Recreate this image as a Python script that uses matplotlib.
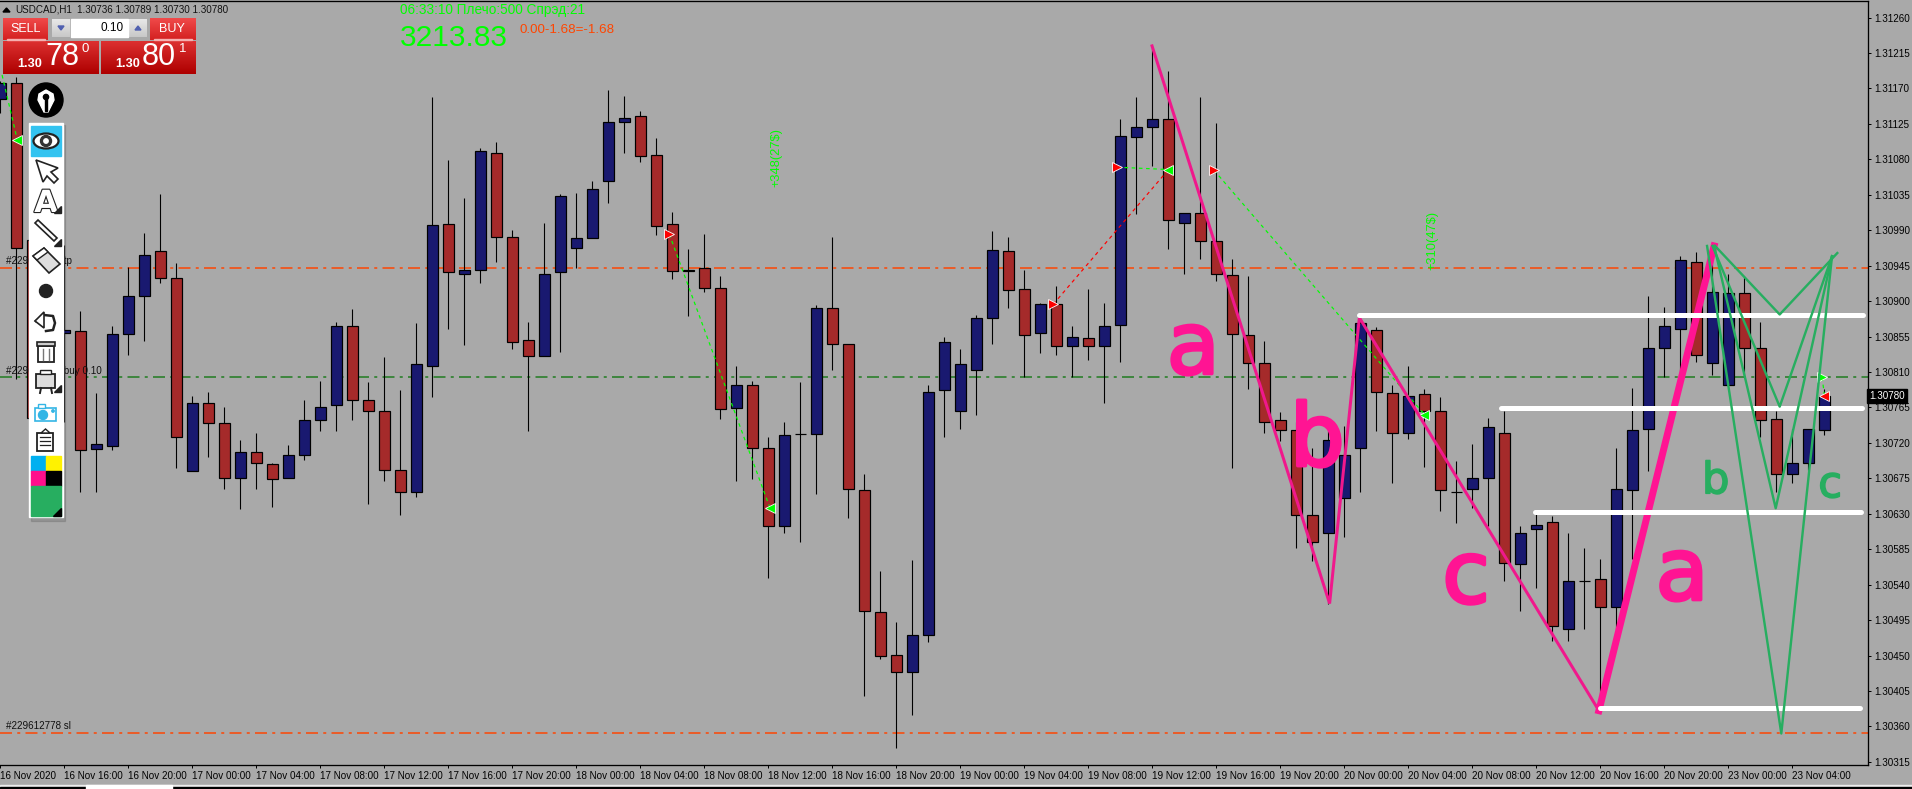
import numpy as np
import matplotlib
matplotlib.use('Agg')
import matplotlib.pyplot as plt
import matplotlib.patheffects as pe
from matplotlib.colors import LinearSegmentedColormap
from matplotlib.patches import Rectangle, Ellipse, Polygon, Circle

# candles in 1e-5 price points, hourly bars
opens = [131156, 131177, 130977, 130755, 130859, 130862, 130712, 130716, 130858, 130906,
         130963, 130929, 130684, 130770, 130745, 130676, 130708, 130693, 130675, 130704,
         130749, 130768, 130869, 130775, 130761, 130685, 130658, 130817, 130998, 130934,
         130939, 131088, 130982, 130850, 130830, 130937, 130967, 130980, 131053, 131128,
         131135, 131086, 130998, 130939, 130942, 130916, 130764, 130793, 130713, 130615,
         130731, 130731, 130891, 130845, 130660, 130505, 130451, 130429, 130476, 130787,
         130760, 130812, 130879, 130963, 130915, 130860, 130896, 130843, 130853, 130843,
         130870, 131108, 131121, 131131, 130999, 131012, 130976, 130933, 130857, 130822,
         130749, 130736, 130629, 130605, 130650, 130713, 130863, 130783, 130732, 130782,
         130761, 130657, 130662, 130676, 130732, 130566, 130610, 130619, 130484, 130545,
         130547, 130511, 130660, 130737, 130841, 130865, 130950, 130821, 130794, 130910,
         130840, 130750, 130681, 130695, 130736]
highs = [131180, 131185, 130990, 130901, 130971, 130887, 130783, 130868, 130943, 130986,
         131036, 130948, 130780, 130784, 130765, 130723, 130733, 130694, 130717, 130775,
         130798, 130874, 130890, 130797, 130829, 130787, 130872, 131159, 131079, 131031,
         131094, 131102, 130990, 130873, 130999, 131036, 131037, 131053, 131168, 131161,
         131141, 131107, 131013, 130966, 130985, 130932, 130817, 130798, 130728, 130746,
         130797, 130895, 130982, 130845, 130681, 130557, 130493, 130571, 130793, 130854,
         130839, 130882, 130989, 130982, 130940, 130898, 130919, 130869, 130915, 130897,
         131131, 131159, 131224, 131192, 131012, 131159, 131126, 130954, 130932, 130849,
         130759, 130746, 130713, 130742, 130742, 130878, 130867, 130793, 130817, 130789,
         130778, 130697, 130718, 130751, 130761, 130615, 130632, 130627, 130606, 130587,
         130573, 130713, 130790, 130906, 130893, 130957, 130962, 130970, 130934, 130932,
         130873, 130761, 130737, 130737, 130789]
lows = [131139, 130801, 130742, 130704, 130747, 130657, 130658, 130711, 130832, 130849,
        130923, 130688, 130684, 130702, 130661, 130636, 130661, 130639, 130675, 130698,
        130735, 130735, 130749, 130642, 130671, 130628, 130651, 130778, 130864, 130844,
        130923, 130950, 130839, 130735, 130830, 130835, 130942, 130980, 131025, 131088,
        131077, 130984, 130928, 130881, 130911, 130750, 130672, 130674, 130549, 130605,
        130594, 130655, 130812, 130625, 130398, 130445, 130333, 130375, 130467, 130727,
        130737, 130755, 130846, 130891, 130803, 130834, 130831, 130803, 130825, 130771,
        130823, 131010, 131071, 130966, 130935, 130953, 130926, 130688, 130788, 130733,
        130722, 130586, 130570, 130516, 130600, 130657, 130735, 130669, 130725, 130689,
        130634, 130618, 130637, 130615, 130545, 130506, 130536, 130468, 130469, 130484,
        130380, 130484, 130572, 130684, 130804, 130808, 130823, 130806, 130794, 130803,
        130727, 130657, 130669, 130685, 130730]
closes = [131177, 130967, 130751, 130863, 130863, 130711, 130718, 130858, 130906, 130958,
          130929, 130727, 130770, 130745, 130676, 130708, 130695, 130674, 130705, 130749,
          130766, 130868, 130775, 130761, 130685, 130657, 130820, 130996, 130937, 130940,
          131090, 130981, 130848, 130830, 130934, 131034, 130980, 131042, 131128, 131133,
          131084, 130995, 130938, 130938, 130916, 130763, 130794, 130714, 130615, 130730,
          130731, 130891, 130845, 130662, 130506, 130450, 130429, 130476, 130785, 130848,
          130820, 130879, 130965, 130914, 130857, 130896, 130843, 130854, 130843, 130869,
          131109, 131121, 131131, 131003, 131012, 130976, 130934, 130858, 130821, 130747,
          130736, 130629, 130594, 130723, 130704, 130872, 130784, 130732, 130780, 130761,
          130660, 130657, 130676, 130740, 130567, 130605, 130616, 130487, 130545, 130545,
          130511, 130661, 130736, 130840, 130868, 130952, 130831, 130912, 130910, 130840,
          130749, 130681, 130695, 130737, 130780]

time_labels = ['16 Nov 2020', '16 Nov 16:00', '16 Nov 20:00',
               '17 Nov 00:00', '17 Nov 04:00', '17 Nov 08:00', '17 Nov 12:00', '17 Nov 16:00', '17 Nov 20:00',
               '18 Nov 00:00', '18 Nov 04:00', '18 Nov 08:00', '18 Nov 12:00', '18 Nov 16:00', '18 Nov 20:00',
               '19 Nov 00:00', '19 Nov 04:00', '19 Nov 08:00', '19 Nov 12:00', '19 Nov 16:00', '19 Nov 20:00',
               '20 Nov 00:00', '20 Nov 04:00', '20 Nov 08:00', '20 Nov 12:00', '20 Nov 16:00', '20 Nov 20:00',
               '23 Nov 00:00', '23 Nov 04:00']
price_ticks = [131260, 131215, 131170, 131125, 131080, 131035, 130990, 130945, 130900, 130855, 130810,
               130765, 130720, 130675, 130630, 130585, 130540, 130495, 130450, 130405, 130360, 130315]

# order levels
tp_level = 130942
buy_level = 130803
sl_level = 130352

# closed trades: (bar, price) entry and exit
green_trades = [((0.1, 131187), (1.06, 131104)), ((41.8, 130985), (48.1, 130637)),
                ((69.8, 131070), (73.0, 131067)), ((75.85, 131066), (89.0, 130756)),
                ((113.85, 130803), (114.0, 130780))]
red_trades = [((65.8, 130896), (73.0, 131067))]

# hand drawn wave lines
pink_thin_x = [71.97, 83.07, 84.93, 99.9]
pink_thin_y = [131224, 130516, 130879, 130380]
pink_thick_x = [99.9, 107.1]
pink_thick_y = [130380, 130970]
white_starts = [84.93, 93.8, 95.9, 100.0]
white_ends = [116.4, 116.35, 116.3, 116.2]
white_prices = [130882, 130764, 130632, 130384]
green_starts = [107.16, 107.0, 107.1, 106.66]
green_mid_x = [111.2, 111.2, 110.95, 111.3]
green_mid_y = [130883, 130766, 130637, 130351]
green_end_x = [114.8, 114.47, 114.47, 114.47]
green_end_y = [130961, 130957, 130957, 130957]
peak_price = 130970

W, H = 1912, 789
BG = '#A9A9A9'
UP = '#191970'
DOWN = '#A52A2A'
PINK = '#FF1493'
GREEN = '#27AE60'
LIME = '#00FF00'
ORANGE = '#FF4500'
PX = 0.72  # one pixel in points at dpi 100

fig = plt.figure(figsize=(W / 100, H / 100), dpi=100, facecolor=BG)
ax = fig.add_axes([0, 24 / H, 1867.7 / W, 764 / H], facecolor=BG)

o = np.array(opens) / 1e5
h = np.array(highs) / 1e5
l = np.array(lows) / 1e5
c = np.array(closes) / 1e5
bars = np.arange(len(o))

ax.vlines(bars, l, h, color='black', linewidth=PX * 1.1, zorder=2)
body_colors = [UP if cl >= op else DOWN for op, cl in zip(o, c)]
ax.bar(bars, np.abs(c - o), bottom=np.minimum(o, c), width=0.66, color=body_colors,
       edgecolor='black', linewidth=PX * 1.2, zorder=3)

ax.set_xlim(-0.03, 116.7)
ax.set_ylim(1.30311, 1.31281)

ax.spines['left'].set_visible(False)
for spine in ['top', 'bottom', 'right']:
    ax.spines[spine].set_linewidth(PX * 1.3)

ax.set_xticks(np.arange(0, len(time_labels) * 4, 4))
ax.set_xticklabels(time_labels, ha='left', family='Liberation Sans', fontsize=7.1)
ax.yaxis.tick_right()
ax.set_yticks(np.array(price_ticks) / 1e5)
ax.set_yticklabels(['%.5f' % (p / 1e5) for p in price_ticks], family='Liberation Sans', fontsize=7.1)
ax.tick_params(axis='x', length=2.5, width=PX, pad=1.5)
ax.tick_params(axis='y', length=2.5, width=PX, pad=2.5)

# order lines
for level, col, label in [(tp_level, ORANGE, '#229612778 tp'),
                          (buy_level, '#1E7B1E', '#229612778 buy 0.10'),
                          (sl_level, ORANGE, '#229612778 sl')]:
    ax.axhline(level / 1e5, color=col, linewidth=PX * 1.5, dashes=(8, 3.5, 2, 3.5), zorder=1.5)
    ax.text(0.35, level / 1e5 + 0.00002, label, family='Liberation Sans', fontsize=7.1, color='#111111',
            va='bottom', ha='left', zorder=4)

# trade arrows
for trades, col in [(green_trades, LIME), (red_trades, 'red')]:
    for (x0, y0), (x1, y1) in trades:
        ax.plot([x0, x1], [y0 / 1e5, y1 / 1e5], color=col, linewidth=PX * 1.2, dashes=(3, 3), zorder=4)
entry_x = [t[0][0] for t in green_trades[1:4]] + [red_trades[0][0][0]]
entry_y = [t[0][1] / 1e5 for t in green_trades[1:4]] + [red_trades[0][0][1] / 1e5]
exit_x = [t[1][0] for t in green_trades[:4]]
exit_y = [t[1][1] / 1e5 for t in green_trades[:4]]
mark = dict(markeredgecolor='white', markeredgewidth=0.6, markersize=7, zorder=5, linestyle='none')
ax.plot(entry_x, entry_y, '>', color='red', **mark)
ax.plot(exit_x, exit_y, '<', color=LIME, **mark)
ax.plot([113.85], [buy_level / 1e5], '>', color=LIME, **mark)
ax.plot([114.0], [c[-1]], '<', color='red', **mark)

ax.text(48.5, 1.31082, '+348(27$)', rotation=90, color=LIME, family='Liberation Sans', fontsize=9.3,
        ha='center', va='center', zorder=5)
ax.text(89.5, 1.30977, '+310(47$)', rotation=90, color=LIME, family='Liberation Sans', fontsize=9.3,
        ha='center', va='center', zorder=5)

# wave drawing
for bx, by, letter in [(74.55, 130808, 'a'), (82.3, 130691, 'b'), (91.6, 130517, 'c'), (105.1, 130521, 'a')]:
    ax.text(bx, by / 1e5, letter, color=PINK, fontsize=62, ha='center', va='baseline', zorder=6,
            path_effects=[pe.withStroke(linewidth=2.5, foreground=PINK)])
for bx, by, letter in [(107.2, 130656, 'b'), (114.35, 130651, 'c')]:
    ax.text(bx, by / 1e5, letter, color=GREEN, fontsize=31, ha='center', va='baseline', zorder=6,
            path_effects=[pe.withStroke(linewidth=1.2, foreground=GREEN)])

ax.plot(pink_thin_x, np.array(pink_thin_y) / 1e5, color='#F0188C', linewidth=PX * 3, zorder=7, solid_joinstyle='miter')
ax.plot(pink_thick_x, np.array(pink_thick_y) / 1e5, color=PINK, linewidth=PX * 7, zorder=7)
for x0, x1, p in zip(white_starts, white_ends, white_prices):
    ax.plot([x0, x1], [p / 1e5, p / 1e5], color='white', linewidth=PX * 5, solid_capstyle='round', zorder=8)
for i in range(4):
    ax.plot([green_starts[i], green_mid_x[i], green_end_x[i]],
            [peak_price / 1e5, green_mid_y[i] / 1e5, green_end_y[i] / 1e5],
            color=GREEN, linewidth=PX * 2.4, zorder=9)

# current price box on the axis
ax.text(1.001, c[-1], '%.5f' % c[-1], transform=ax.get_yaxis_transform(), color='white',
        family='Liberation Sans', fontsize=7.1, ha='left', va='center', zorder=10, clip_on=False,
        bbox=dict(facecolor='black', edgecolor='black', pad=1.5))

# terminal widgets, drawn in screen pixels on top of the chart
ui = fig.add_axes([0, 0, 1, 1], facecolor='none')
ui.set_xlim(0, W)
ui.set_ylim(H, 0)
ui.set_autoscale_on(False)
ui.axis('off')


def gradient(x0, y0, x1, y1, top, bottom, z=20):
    cmap = LinearSegmentedColormap.from_list('g', [top, bottom])
    ui.imshow(np.linspace(0, 1, 40).reshape(-1, 1), extent=[x0, x1, y1, y0], cmap=cmap,
              aspect='auto', zorder=z, interpolation='bilinear')


def ui_text(x, y, s, size, color='white', ha='left', va='center', family='Liberation Sans', **kw):
    ui.text(x, y, s, fontsize=size, color=color, ha=ha, va=va, family=family, zorder=25, **kw)


# header
ui.add_patch(Polygon([(3, 12), (10, 12), (6.5, 8)], closed=True, color='black', zorder=25))
ui_text(15, 9.5, 'USDCAD,H1', 7.1, color='#111111')
ui_text(77, 9.5, '1.30736 1.30789 1.30730 1.30780', 7.1, color='#111111')
ui_text(400, 10, '06:33:10 Плечо:500 Спрэд:21', 9.8, color=LIME)
ui_text(400, 38, '3213.83', 21.5, color=LIME)
ui_text(520, 29.5, '0.00-1.68=-1.68', 9.6, color=ORANGE)

# one click trading
gradient(3, 18, 48, 40, '#F04A4A', '#D42020')
gradient(150, 18, 196, 40, '#F04A4A', '#D42020')
gradient(3, 41, 99, 74, '#DC3030', '#AE0000')
gradient(101, 41, 196, 74, '#DC3030', '#AE0000')
ui.add_patch(Rectangle((7, 39), 38, 1, color='#F5B0B0', zorder=22))
ui.add_patch(Rectangle((154, 39), 38, 1, color='#F5B0B0', zorder=22))
gradient(52, 19, 70, 37, '#E8E8E8', '#C8C8C8')
gradient(129, 19, 147, 37, '#E8E8E8', '#C8C8C8')
ui.add_patch(Rectangle((71, 19), 57, 18, color='white', zorder=21))
ui.add_patch(Polygon([(58, 26), (64, 26), (61, 30)], closed=True, color='#5060B0', zorder=22))
ui.add_patch(Polygon([(135, 30), (141, 30), (138, 26)], closed=True, color='#5060B0', zorder=22))
ui_text(25.5, 29, 'SELL', 9, ha='center')
ui_text(172, 29, 'BUY', 9, ha='center')
ui_text(124, 27.5, '0.10', 8.5, color='black', ha='right')
ui_text(17, 64, '1.30', 9.2, fontweight='bold')
ui_text(45, 57, '78', 22)
ui_text(82, 49, '0', 9.5)
ui_text(115, 64, '1.30', 9.2, fontweight='bold')
ui_text(142, 57, '80', 22)
ui_text(179, 49, '1', 9.5)

# pen badge
ui.add_patch(Ellipse((46, 100), 34, 34, color='black', zorder=20))
ui.add_patch(Polygon([(46, 90), (39, 94), (38, 100), (44, 112), (48, 112), (54, 100), (53, 94)],
                     closed=True, color='white', zorder=21))
ui.add_patch(Circle((46, 97), 2.6, color='black', zorder=22))
ui.add_patch(Rectangle((45.3, 97), 1.4, 14, color='black', zorder=22))

# tool bar
ui.add_patch(Rectangle((31, 125), 34, 396, color='black', alpha=0.12, zorder=18))
ui.add_patch(Rectangle((29, 123), 34, 394, color='white', zorder=20))
ui.add_patch(Rectangle((31, 126), 30, 30, color='#33C3F0', zorder=21))
ui.add_patch(Ellipse((46, 141), 25, 15, facecolor='white', edgecolor='#222222', linewidth=1.6, zorder=22))
ui.add_patch(Circle((46, 141), 5.5, color='#333333', zorder=23))
ui.add_patch(Circle((46, 141), 2.2, color='white', zorder=24))
# arrow
ui.add_patch(Polygon([(36, 160), (58, 168), (51, 172), (58, 179), (54, 183), (47, 176), (43, 182)], closed=True,
                     facecolor='white', edgecolor='#222222', linewidth=1.2, zorder=22))
# text tool
ui.text(46, 212, 'A', fontsize=22, color='white', ha='center', va='baseline', zorder=22, family='DejaVu Sans',
        fontweight='bold', path_effects=[pe.withStroke(linewidth=1.6, foreground='#222222')])
ui.add_patch(Polygon([(61, 206), (61, 213), (54, 213)], closed=True, color='#222222', zorder=22))
# line tool
ui.add_patch(Polygon([(35, 223), (38, 220), (57, 238), (54, 241)], closed=True, facecolor='white',
                     edgecolor='#222222', linewidth=1.2, zorder=22))
ui.add_patch(Polygon([(61, 239), (61, 246), (54, 246)], closed=True, color='#222222', zorder=22))
# eraser
ui.add_patch(Polygon([(33, 256), (44, 248), (60, 264), (49, 273)], closed=True, facecolor='#DDDDDD',
                     edgecolor='#222222', linewidth=1.2, zorder=22))
ui.add_patch(Polygon([(33, 256), (44, 248), (48, 252), (37, 260)], closed=True, facecolor='white',
                     edgecolor='#222222', linewidth=1.0, zorder=23))
ui.add_patch(Circle((46, 291), 6.5, color='#222222', zorder=22))
# undo
ui.plot([36, 44, 53, 55, 53, 46], [321, 315, 316, 323, 330, 331], color='#222222', linewidth=1.8, zorder=22)
ui.add_patch(Polygon([(35, 321), (44, 312), (44, 328)], closed=True, facecolor='white', edgecolor='#222222',
                     linewidth=1.2, zorder=23))
# trash
ui.add_patch(Rectangle((38, 346), 16, 16, facecolor='white', edgecolor='#222222', linewidth=1.3, zorder=22))
ui.add_patch(Rectangle((37, 342), 18, 4, facecolor='#CCCCCC', edgecolor='#222222', linewidth=1.2, zorder=23))
ui.plot([43, 43], [349, 360], color='#777777', linewidth=1, zorder=23)
ui.plot([49, 49], [349, 360], color='#777777', linewidth=1, zorder=23)
# projector
ui.add_patch(Rectangle((36, 374), 19, 14, facecolor='#DDDDDD', edgecolor='#222222', linewidth=1.3, zorder=22))
ui.add_patch(Rectangle((40, 370), 11, 4, facecolor='white', edgecolor='#222222', linewidth=1.0, zorder=22))
ui.plot([41, 40], [388, 393], color='#222222', linewidth=1.4, zorder=22)
ui.plot([51, 52], [388, 393], color='#222222', linewidth=1.4, zorder=22)
ui.add_patch(Polygon([(61, 385), (61, 392), (54, 392)], closed=True, color='#222222', zorder=22))
# camera
ui.add_patch(Rectangle((35.5, 408), 21, 13, facecolor='white', edgecolor='#33B5E5', linewidth=1.2, zorder=22))
ui.add_patch(Rectangle((38.5, 404), 7, 4, facecolor='white', edgecolor='#33B5E5', linewidth=1.0, zorder=22))
ui.add_patch(Circle((43, 415), 4.5, color='#33B5E5', zorder=23))
ui.add_patch(Circle((53, 411), 1.2, color='#33B5E5', zorder=23))
# clipboard
ui.add_patch(Rectangle((37.5, 433), 16, 18, facecolor='white', edgecolor='#222222', linewidth=1.3, zorder=22))
ui.add_patch(Polygon([(41, 433), (45.5, 429), (50, 433)], closed=True, facecolor='white', edgecolor='#222222',
                     linewidth=1.0, zorder=22))
for yy in [437, 441, 445]:
    ui.plot([40.5, 50.5], [yy, yy], color='#222222', linewidth=0.9, zorder=23)
# colours
ui.add_patch(Rectangle((31, 456), 15, 15, color='#00B0F0', zorder=21))
ui.add_patch(Rectangle((46, 456), 15, 15, color='#FFF200', zorder=21))
ui.add_patch(Rectangle((31, 471), 15, 15, color='#FF0F8C', zorder=21))
ui.add_patch(Rectangle((46, 471), 15, 15, color='black', zorder=21))
ui.add_patch(Rectangle((31, 486), 30, 30, color=GREEN, zorder=21))
ui.add_patch(Polygon([(61, 508), (61, 516), (53, 516)], closed=True, color='black', zorder=22))

# tab strip at the very bottom
ui.add_patch(Rectangle((0, 785), W, 2, color='#EDEDED', zorder=19))
ui.add_patch(Rectangle((0, 787), W, 2, color='black', zorder=19))
ui.add_patch(Rectangle((86, 785), 86, 4, color='white', zorder=20))

fig.savefig('out.png', dpi=100, facecolor=BG)
